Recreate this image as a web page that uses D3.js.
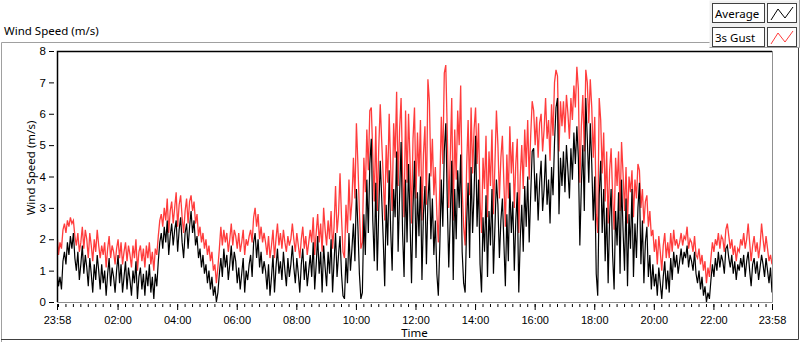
<!DOCTYPE html>
<html>
<head>
<meta charset="utf-8">
<script src="https://cdn.jsdelivr.net/npm/d3@7"></script>
<style>
  body { margin: 0; background: #fff; }
  svg { display: block; font-family: "Noto Sans", "DejaVu Sans", sans-serif; font-size: 11.5px; }
</style>
</head>
<body>
<div id="chart"></div>
<script>
// one sample every 3 minutes from 23:58 to 23:58 (ten per row = 30 minutes)
var stepMinutes = 3;

var average = [
  1.0, 0.5, 0.8, 0.4, 1.3, 1.6, 1.2, 1.9, 1.5, 2.1,
  1.7, 2.2, 1.4, 1.0, 1.6, 0.7, 1.2, 1.8, 0.9, 1.5,
  1.1, 0.5, 1.4, 0.9, 0.3, 1.2, 0.7, 1.5, 1.0, 0.4,
  1.2, 0.6, 1.0, 0.2, 0.9, 1.4, 0.5, 1.1, 0.8, 0.3,
  1.0, 1.5, 0.6, 1.2, 0.3, 0.8, 1.3, 0.4, 1.1, 0.7,
  0.2, 1.0, 0.6, 1.3, 0.1, 0.8, 1.1, 0.4, 0.9, 0.2,
  1.0, 0.5, 1.2, 0.3, 0.8, 0.1, 0.9, 0.5, 1.3, 1.9,
  2.2, 1.7, 2.4, 1.9, 2.6, 1.5, 2.1, 2.5, 1.8, 2.3,
  2.6, 1.6, 2.3, 2.7, 1.9, 1.4, 2.2, 2.5, 1.7, 2.4,
  2.9, 2.2, 2.6, 1.8, 2.1, 1.4, 1.7, 1.1, 1.5, 0.9,
  1.2, 0.6, 1.0, 0.4, 0.8, 0.2, 0.5, 0.0, 0.3, 0.9,
  1.4, 0.8, 1.7, 1.1, 1.5, 0.7, 1.2, 1.8, 1.0, 1.6,
  1.3, 0.6, 1.1, 0.4, 0.9, 1.4, 0.3, 1.0, 0.7, 1.2,
  1.5, 0.8, 1.9, 2.2, 1.4, 2.0, 1.1, 1.6, 0.9, 1.3,
  1.0, 0.4, 1.2, 0.2, 0.8, 1.5, 0.3, 1.1, 1.7, 0.9,
  1.3, 0.7, 1.6, 1.0, 0.5, 1.4, 0.8, 1.2, 1.8, 1.1,
  0.6, 1.4, 0.9, 0.3, 1.2, 1.7, 0.7, 1.3, 0.5, 1.0,
  1.5, 0.8, 1.9, 0.4, 1.2, 2.1, 0.9, 1.6, 0.3, 1.8,
  1.1, 0.5, 1.6, 0.9, 2.0, 0.3, 1.3, 2.2, 0.8, 1.5,
  2.1, 0.9, 0.2, 0.1, 1.4, 0.6, 2.2, 1.0, 1.7, 2.5,
  1.3, 3.6, 2.4, 0.9, 0.1, 0.3, 2.8, 1.5, 3.9, 2.2,
  4.4, 5.2, 2.6, 1.3, 3.8, 1.0, 2.9, 4.5, 3.3, 2.0,
  0.5, 3.1, 1.8, 4.2, 2.3, 1.0, 3.6, 2.7, 4.8, 1.6,
  3.4, 5.1, 2.2, 0.8, 3.9, 1.9, 4.4, 2.6, 0.6, 3.0,
  4.5, 1.4, 3.5, 2.1, 4.0, 0.7, 2.8, 3.7, 1.2, 3.2,
  4.1, 2.0, 3.3, 1.5, 2.6, 0.9, 0.2, 1.8, 3.9, 2.4,
  4.8, 5.7, 3.2, 1.1, 2.7, 4.5, 0.7, 3.6, 2.0, 4.2,
  3.0, 4.7, 1.6, 0.6, 0.3, 2.5, 3.8, 1.4, 4.3, 2.2,
  3.5, 5.3, 2.4, 3.9, 1.2, 0.3, 2.7, 1.6, 3.4, 0.8,
  2.9, 1.8, 3.6, 0.9, 2.4, 3.9, 3.1, 1.4, 2.6, 3.3,
  1.9, 0.5, 2.8, 1.3, 3.8, 2.2, 3.2, 1.0, 2.6, 3.5,
  0.3, 2.0, 3.1, 1.6, 3.7, 2.4, 4.0, 1.9, 3.4, 4.8,
  4.9, 3.2, 4.1, 2.6, 3.8, 4.5, 2.9, 3.6, 4.7, 3.1,
  3.9, 2.5, 4.3, 3.4, 5.1, 6.2, 6.5, 2.8, 4.6, 3.7,
  4.8, 3.5, 5.0, 4.2, 3.3, 4.9, 3.9, 5.4, 4.4, 5.6,
  4.6, 1.8, 3.7, 5.0, 2.9, 6.5, 5.2, 3.8, 5.7, 4.4,
  2.6, 4.0, 0.9, 0.2, 3.4, 4.5, 2.2, 3.6, 1.3, 3.0,
  0.6, 2.7, 3.6, 1.5, 0.4, 2.9, 1.8, 3.5, 0.9, 3.9,
  2.3, 1.0, 3.3, 0.5, 2.8, 1.7, 3.6, 0.8, 2.5, 1.4,
  3.0, 3.8, 1.2, 2.6, 0.6, 1.9, 2.4, 0.8, 1.5, 0.4,
  1.2, 0.5, 0.9, 0.2, 1.1, 0.6, 0.1, 0.8, 1.3, 0.4,
  1.0, 0.3, 1.4, 0.7, 1.6, 1.1, 1.5, 0.9, 1.3, 1.7,
  1.2, 1.6, 1.4, 1.8, 1.1, 1.5, 1.3, 1.0, 1.6, 0.9,
  0.6, 1.0, 0.4, 0.8, 0.2, 0.5, 0.0, 0.3, 0.1, 0.7,
  1.2, 0.8, 1.4, 1.0, 1.6, 1.1, 1.5, 1.3, 0.9, 1.7,
  1.8, 1.4, 1.1, 1.5, 0.9, 1.3, 0.7, 1.2, 1.0, 1.4,
  1.1, 1.5, 0.8, 1.3, 1.6, 1.0, 0.5, 1.2, 1.4, 0.9,
  1.3, 0.7, 1.1, 1.5, 1.2, 0.8, 1.4, 1.0, 0.6, 1.1,
  0.3
];

var gust = [
  2.2, 1.5, 1.9, 1.7, 2.3, 2.5, 2.2, 2.6, 2.4, 2.7,
  2.5, 2.6, 2.1, 1.8, 2.2, 1.6, 1.9, 2.4, 1.7, 2.3,
  2.0, 1.4, 2.2, 1.8, 1.3, 2.0, 1.6, 2.3, 1.8, 1.4,
  1.8, 1.5, 1.9, 1.1, 1.7, 2.1, 1.4, 1.8, 1.6, 1.2,
  1.7, 2.0, 1.4, 1.9, 1.2, 1.6, 1.9, 1.3, 1.8, 1.5,
  1.1, 1.8, 1.4, 2.0, 1.0, 1.6, 1.8, 1.3, 1.7, 1.1,
  1.8, 1.4, 1.9, 1.2, 1.6, 1.0, 1.7, 1.5, 2.1, 2.6,
  2.8, 2.4, 3.0, 2.6, 3.3, 2.2, 2.9, 3.2, 2.5, 3.0,
  3.5, 2.4, 3.1, 3.4, 2.7, 2.2, 2.9, 3.3, 2.5, 3.2,
  3.4, 2.9, 3.2, 2.5, 2.8, 2.1, 2.4, 1.9, 2.2, 1.7,
  2.0, 1.5, 1.8, 1.3, 1.6, 1.0, 1.2, 0.6, 1.1, 1.7,
  2.4, 1.8, 2.3, 1.9, 2.2, 1.6, 2.0, 2.5, 1.8, 2.3,
  2.1, 1.7, 2.2, 1.6, 1.9, 2.3, 1.5, 2.0, 1.8, 2.1,
  2.3, 1.9, 2.7, 3.0, 2.4, 2.8, 2.0, 2.4, 1.9, 2.2,
  1.9, 1.5, 2.1, 1.4, 1.8, 2.3, 1.4, 2.0, 2.5, 1.8,
  2.2, 1.7, 2.3, 1.9, 1.6, 2.1, 1.8, 2.0, 2.5, 2.0,
  1.6, 2.2, 1.8, 1.4, 2.0, 2.4, 1.7, 2.1, 1.5, 1.9,
  2.3, 1.9, 2.7, 1.5, 2.2, 2.8, 1.9, 2.5, 1.6, 3.0,
  2.3, 1.8, 2.6, 2.0, 2.9, 1.7, 2.4, 3.7, 2.2, 2.8,
  4.1, 2.7, 1.6, 1.4, 3.1, 2.2, 3.9, 2.6, 3.2, 4.6,
  3.3, 5.7, 4.4, 2.9, 1.7, 1.9, 4.6, 3.5, 5.5, 4.2,
  6.1, 6.2, 4.7, 3.2, 5.6, 2.9, 4.9, 6.3, 5.1, 4.0,
  2.6, 5.0, 3.8, 6.0, 4.3, 2.9, 5.7, 4.6, 6.7, 3.7,
  5.5, 6.5, 4.1, 2.7, 6.1, 3.8, 6.0, 4.5, 2.5, 5.2,
  6.2, 3.3, 5.4, 4.0, 5.8, 2.6, 4.7, 5.6, 3.1, 7.1,
  6.4, 4.0, 5.2, 3.4, 4.3, 2.8, 1.9, 3.7, 5.9, 4.4,
  7.3, 7.55, 5.4, 3.0, 4.6, 6.5, 2.6, 5.5, 3.9, 6.1,
  5.0, 6.9, 3.6, 2.4, 1.8, 4.3, 5.8, 3.4, 6.2, 4.1,
  5.5, 6.2, 4.4, 5.7, 3.2, 2.2, 4.6, 3.6, 5.3, 2.7,
  4.8, 3.7, 5.5, 2.8, 4.4, 6.1, 5.0, 3.3, 4.6, 5.3,
  3.8, 2.4, 4.7, 3.3, 5.6, 4.1, 5.1, 3.0, 4.4, 5.2,
  2.2, 4.0, 5.0, 3.6, 5.5, 4.3, 5.8, 3.9, 5.3, 6.4,
  6.1, 5.0, 5.9, 4.6, 5.7, 6.0, 4.8, 5.5, 6.5, 5.2,
  5.8, 4.5, 6.3, 5.3, 7.0, 7.4, 7.2, 4.8, 6.4, 5.6,
  6.4, 5.4, 6.6, 6.0, 5.2, 6.5, 5.8, 6.9, 6.2, 7.5,
  6.8, 3.8, 5.6, 6.6, 4.8, 7.4, 7.0, 5.7, 7.1, 6.2,
  4.6, 5.9, 2.8, 2.2, 6.5, 5.8, 4.1, 5.4, 3.2, 4.8,
  2.5, 4.2, 4.9, 3.4, 2.3, 4.6, 3.7, 4.8, 2.9, 5.1,
  4.1, 2.9, 4.3, 2.5, 4.0, 3.5, 4.2, 2.7, 3.9, 3.3,
  4.4, 4.2, 3.0, 3.6, 2.5, 3.2, 3.4, 2.4, 2.9, 2.1,
  2.3, 1.6, 2.0, 1.2, 2.1, 1.6, 1.0, 1.8, 2.2, 1.4,
  1.9, 1.4, 2.2, 1.6, 2.3, 1.8, 2.0, 1.7, 1.9, 2.2,
  1.8, 2.1, 2.0, 2.4, 1.7, 2.0, 1.9, 1.6, 2.1, 1.5,
  1.4, 1.7, 1.2, 1.5, 1.0, 1.3, 0.6, 1.1, 0.8, 1.4,
  1.9, 1.6, 2.0, 1.8, 2.2, 1.7, 2.1, 2.0, 1.6, 2.3,
  2.5, 2.1, 1.7, 2.0, 1.5, 1.8, 1.3, 1.7, 1.6, 2.0,
  1.8, 2.2, 1.7, 2.0, 2.5, 1.9, 1.3, 1.8, 2.1, 1.6,
  1.9, 1.4, 1.8, 2.5, 2.0, 1.6, 2.1, 1.7, 1.3, 1.5,
  1.2
];

var yTicks = [0, 1, 2, 3, 4, 5, 6, 7, 8];
var xLabels = ["23:58", "02:00", "04:00", "06:00", "08:00", "10:00", "12:00",
               "14:00", "16:00", "18:00", "20:00", "22:00", "23:58"];
var seriesNames = ["Average", "3s Gust"];
var seriesColors = ["#000000", "#ff3c3c"];

var width = 800, height = 342;
var plot = { left: 57, top: 51, right: 772, bottom: 302 };

var t0 = new Date(2020, 0, 1, 23, 58);
var t1 = new Date(2020, 0, 2, 23, 58);

var x = d3.scaleTime().domain([t0, t1]).range([plot.left, plot.right]);
var y = d3.scaleLinear().domain([0, 8]).range([plot.bottom, plot.top]);

var svg = d3.select('#chart').append('svg')
  .attr('width', width)
  .attr('height', height);

// outer frame
svg.append('path')
  .attr('d', 'M1.5,' + height + ' V42.5 H712')
  .attr('fill', 'none').attr('stroke', '#a0a0a0');
svg.append('path')
  .attr('d', 'M798.5,47 V339.5 H1')
  .attr('fill', 'none').attr('stroke', '#404040');

svg.append('text')
  .attr('x', 4).attr('y', 35)
  .text('Wind Speed (m/s)');

// legend
var legend = svg.append('g');
legend.append('rect')
  .attr('x', 709.5).attr('y', 0.5).attr('width', 90).attr('height', 47)
  .attr('fill', '#f0f0f0').attr('stroke', 'none');
legend.append('path')
  .attr('d', 'M709.5,47.5 H799.5 V0')
  .attr('fill', 'none').attr('stroke', '#a0a0a0');
seriesNames.forEach(function(name, i) {
  var yy = 3 + i * 24;
  legend.append('rect')
    .attr('x', 712.5).attr('y', yy + 0.5).attr('width', 52).attr('height', 19)
    .attr('fill', '#fff').attr('stroke', '#404040');
  legend.append('text')
    .attr('x', 715).attr('y', yy + 15)
    .text(name);
  legend.append('rect')
    .attr('x', 767.5).attr('y', yy + 0.5).attr('width', 29).attr('height', 19)
    .attr('fill', '#fff').attr('stroke', '#404040');
  legend.append('path')
    .attr('d', 'M771,' + (yy + 17) + ' L778,' + (yy + 6) + ' L785,' + (yy + 15) + ' L793,' + (yy + 4))
    .attr('fill', 'none').attr('stroke', seriesColors[i]);
});

// plot frame
svg.append('rect')
  .attr('x', plot.left).attr('y', plot.top)
  .attr('width', plot.right - plot.left).attr('height', plot.bottom - plot.top)
  .attr('fill', '#fff');

svg.append('clipPath').attr('id', 'clip')
  .append('rect')
  .attr('x', plot.left).attr('y', plot.top)
  .attr('width', plot.right - plot.left).attr('height', plot.bottom - plot.top + 1);

function toPoints(values) {
  return values.map(function(v, i) {
    return { t: d3.timeMinute.offset(t0, i * stepMinutes), v: v };
  });
}

var line = d3.line()
  .x(function(d) { return x(d.t); })
  .y(function(d) { return y(d.v); });

var lines = svg.append('g').attr('clip-path', 'url(#clip)');
lines.append('path')
  .datum(toPoints(gust))
  .attr('d', line)
  .attr('fill', 'none')
  .attr('stroke', seriesColors[1])
  .attr('stroke-width', 1.3);
lines.append('path')
  .datum(toPoints(average))
  .attr('d', line)
  .attr('fill', 'none')
  .attr('stroke', seriesColors[0])
  .attr('stroke-width', 1.2);

svg.append('path')
  .attr('d', 'M' + (plot.left + 0.5) + ',' + plot.bottom + ' V' + (plot.top + 0.5) + ' H' + plot.right)
  .attr('fill', 'none').attr('stroke', '#000').attr('stroke-width', 1.5);
svg.append('path')
  .attr('d', 'M' + (plot.right + 0.5) + ',' + plot.top + ' V' + (plot.bottom + 0.5) + ' H' + plot.left)
  .attr('fill', 'none').attr('stroke', '#909090');

// y axis
var yAxis = d3.axisLeft(y).tickValues(yTicks).tickSize(5).tickPadding(3).tickFormat(d3.format('d'));
var gy = svg.append('g')
  .attr('transform', 'translate(' + (plot.left - 3) + ',0)')
  .call(yAxis);
gy.select('.domain').remove();
gy.selectAll('text').attr('font-size', 11.5).attr('font-family', null).attr('fill', '#000');

// x axis: minor ticks every 15 minutes, labels every 2 hours plus the ends
var minor = d3.timeMinute.every(15).range(t0, d3.timeMinute.offset(t1, 1));
var major = [t0]
  .concat(d3.timeHour.every(2).range(new Date(2020, 0, 2, 1), t1))
  .concat([t1]);

var xMinor = d3.axisBottom(x).tickValues(minor).tickSize(3).tickFormat('');
var gxm = svg.append('g')
  .attr('transform', 'translate(0,' + (plot.bottom + 2) + ')')
  .call(xMinor);
gxm.select('.domain').remove();

var xMajor = d3.axisBottom(x).tickValues(major).tickSize(6).tickPadding(6)
  .tickFormat(function(d, i) { return xLabels[i]; });
var gx = svg.append('g')
  .attr('transform', 'translate(0,' + (plot.bottom + 2) + ')')
  .call(xMajor);
gx.select('.domain').remove();
gx.selectAll('text').attr('font-size', 11).attr('font-family', null).attr('fill', '#000');

svg.append('text')
  .attr('x', (plot.left + plot.right) / 2).attr('y', 337)
  .attr('text-anchor', 'middle')
  .text('Time');

svg.append('text')
  .attr('transform', 'translate(35,168) rotate(-90)')
  .attr('text-anchor', 'middle')
  .text('Wind Speed (m/s)');
</script>
</body>
</html>
